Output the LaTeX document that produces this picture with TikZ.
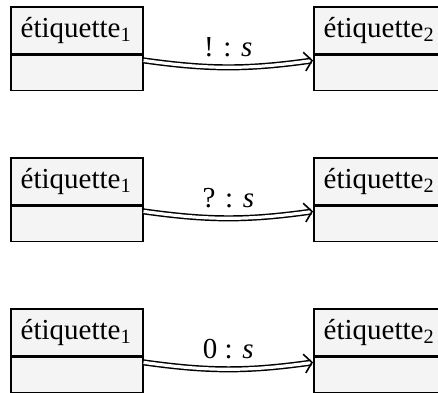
\documentclass[tikz,border=0pt]{standalone}
\usepackage{fontspec}
\setmainfont{Liberation Serif}
\usepackage{tikz}
\usetikzlibrary{arrows.meta, positioning}
\definecolor{boxfill}{HTML}{F4F4F4}

\begin{document}
\begin{tikzpicture}[
  head/.style={draw, line width=0.55pt, fill=boxfill, anchor=north west,
    minimum width=1.6cm, minimum height=0.57cm, inner sep=0pt,
    text width=1.6cm-0.24cm, align=left},
  body/.style={draw, line width=0.55pt, fill=boxfill,
    minimum width=1.6cm, minimum height=0.425cm, inner sep=0pt},
  msg/.style={double, line width=0.5pt, double distance=1.1pt,
    -{Straight Barb[length=2.6pt, width=6.5pt, line width=0.55pt]}, bend right=8}
]
\useasboundingbox (-0.121,0.073) rectangle (5.188,-4.679);

\node[head] (em1) at (0,0) {étiquette\textsubscript{1}};
\node[body, below=0pt of em1] (em1b) {};
\node[head] (em2) at (3.673,0) {étiquette\textsubscript{2}};
\node[body, below=0pt of em2] (em2b) {};

\node[head] (re1) at (0,-1.83) {étiquette\textsubscript{1}};
\node[body, below=0pt of re1] (re1b) {};
\node[head] (re2) at (3.673,-1.83) {étiquette\textsubscript{2}};
\node[body, below=0pt of re2] (re2b) {};

\node[head] (ze1) at (0,-3.66) {étiquette\textsubscript{1}};
\node[body, below=0pt of ze1] (ze1b) {};
\node[head] (ze2) at (3.673,-3.66) {étiquette\textsubscript{2}};
\node[body, below=0pt of ze2] (ze2b) {};

\draw[msg] ([yshift=-0.07cm]em1b.north east) to node[above]{! : \textit{s}} ([yshift=-0.07cm]em2b.north west);
\draw[msg] ([yshift=-0.07cm]re1b.north east) to node[above]{? : \textit{s}} ([yshift=-0.07cm]re2b.north west);
\draw[msg] ([yshift=-0.07cm]ze1b.north east) to node[above]{0 : \textit{s}} ([yshift=-0.07cm]ze2b.north west);
\end{tikzpicture}
\end{document}
